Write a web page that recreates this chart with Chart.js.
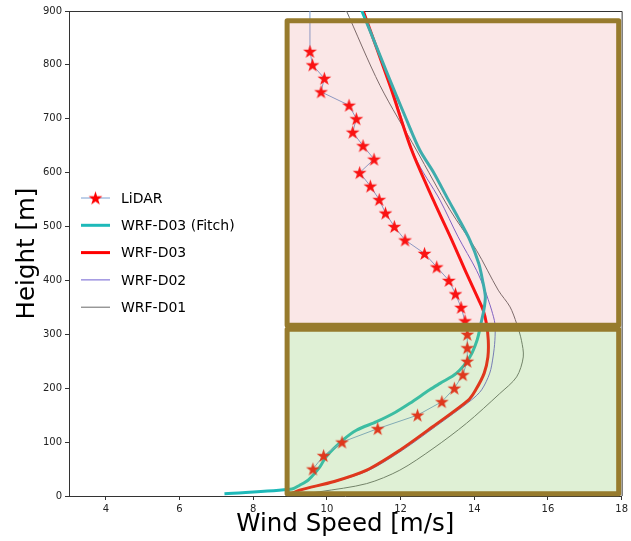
<!DOCTYPE html>
<html>
<head>
<meta charset="utf-8">
<script src="https://cdn.jsdelivr.net/npm/chart.js@4.4.0/dist/chart.umd.min.js"></script>
<style>
  html, body { margin: 0; padding: 0; background: #fff; }
</style>
</head>
<body>
<canvas id="profile" width="631" height="541"></canvas>
<script>
// heights in m, speeds in m/s
const lidarHeight = [50, 75, 100, 125, 150, 175, 200, 225, 250, 275, 300, 325, 350, 375, 400, 425,
                     450, 475, 500, 525, 550, 575, 600, 625, 650, 675, 700, 725, 750, 775, 800, 825, 1000];
const lidarSpeed = [9.62, 9.91, 10.41, 11.38, 12.46, 13.12, 13.46, 13.69, 13.81, 13.81, 13.81, 13.75, 13.64, 13.49, 13.31, 12.98,
                    12.65, 12.12, 11.83, 11.59, 11.42, 11.18, 10.89, 11.28, 10.98, 10.70, 10.80, 10.60, 9.84, 9.93, 9.61, 9.54, 9.54];

const fitchHeight = [4, 13, 20, 30, 54, 73, 104, 122, 138, 155, 172, 197, 209, 228, 258, 290, 320, 345, 370, 395,
                     432, 475, 518, 549, 600, 642, 700, 787, 850, 905];
const fitchSpeed = [7.22, 9.05, 9.26, 9.5, 9.81, 9.98, 10.44, 10.80, 11.35, 11.85, 12.25, 12.79, 13.07, 13.52, 13.88, 14.08, 14.18, 14.26, 14.30, 14.24,
                    14.12, 13.88, 13.55, 13.30, 12.90, 12.52, 12.15, 11.62, 11.25, 10.92];

const d03Height = [2, 11, 27, 48, 85, 129, 178, 197, 228, 258, 289, 320, 345, 364, 413, 469, 549, 642, 762, 905];
const d03Speed = [8.95, 9.26, 10.2, 11.08, 11.98, 12.88, 13.84, 14.04, 14.27, 14.37, 14.38, 14.33, 14.24, 14.12, 13.79, 13.43, 12.89, 12.30, 11.71, 10.96];

const d02Height = [2, 11, 27, 48, 85, 129, 178, 197, 228, 258, 289, 320, 345, 364, 382, 419, 481, 549, 630, 775, 905];
const d02Speed = [8.97, 9.3, 10.25, 11.15, 12.05, 12.95, 13.92, 14.2, 14.42, 14.51, 14.56, 14.56, 14.47, 14.38, 14.29, 14.06, 13.56, 13.07, 12.39, 11.68, 10.95];

const d01Height = [2, 8, 23, 48, 88, 135, 190, 221, 258, 289, 320, 351, 382, 456, 531, 642, 762, 905];
const d01Speed = [9.15, 9.81, 11.08, 11.98, 12.88, 13.79, 14.69, 15.15, 15.33, 15.28, 15.15, 14.97, 14.65, 14.06, 13.34, 12.43, 11.44, 10.50];

const xTicks = [4, 6, 8, 10, 12, 14, 16, 18];
const yTicks = [0, 100, 200, 300, 400, 500, 600, 700, 800, 900];

// highlighted height ranges (data units)
const regions = [
  {x0: 8.92, x1: 17.92, y0: 317, y1: 882, fill: 'rgba(228,110,110,0.17)'},
  {x0: 8.92, x1: 17.92, y0: 4, y1: 309.5, fill: 'rgba(140,200,105,0.28)'}
];

const toPoints = (hs, vs) => hs.map((h, i) => ({x: vs[i], y: h}));

function makeStar(r, color) {
  const c = document.createElement('canvas');
  const s = Math.ceil(r * 2 + 2);
  c.width = s; c.height = s;
  const g = c.getContext('2d');
  g.beginPath();
  for (let k = 0; k < 10; k++) {
    const rad = k % 2 === 0 ? r : r * 0.382;
    const a = -Math.PI / 2 + k * Math.PI / 5;
    g.lineTo(s / 2 + rad * Math.cos(a), s / 2 + 0.6 + rad * Math.sin(a));
  }
  g.closePath();
  g.fillStyle = color;
  g.fill();
  return c;
}
const star = makeStar(7.3, '#ff0000');

const regionPlugin = {
  id: 'regions',
  beforeDatasetsDraw(chart) {
    const {ctx, chartArea: a} = chart;
    ctx.save();
    ctx.strokeStyle = '#333';
    ctx.lineWidth = 1;
    ctx.beginPath();
    ctx.moveTo(a.left, a.top + 0.5);
    ctx.lineTo(a.right + 0.5, a.top + 0.5);
    ctx.lineTo(a.right + 0.5, a.bottom);
    ctx.stroke();
    ctx.restore();
  },
  afterDatasetsDraw(chart) {
    const {ctx, scales: {x, y}} = chart;
    regions.forEach(r => {
      const left = x.getPixelForValue(r.x0), right = x.getPixelForValue(r.x1);
      const top = y.getPixelForValue(r.y1), bottom = y.getPixelForValue(r.y0);
      ctx.save();
      ctx.fillStyle = r.fill;
      ctx.fillRect(left, top, right - left, bottom - top);
      ctx.lineWidth = 5;
      ctx.lineJoin = 'round';
      ctx.strokeStyle = '#977b2d';
      ctx.strokeRect(left, top, right - left, bottom - top);
      ctx.restore();
    });
  }
};

const legendPlugin = {
  id: 'sideLegend',
  afterDraw(chart) {
    const {ctx} = chart;
    ctx.save();
    ctx.font = '14px "DejaVu Sans"';
    ctx.textBaseline = 'middle';
    ctx.fillStyle = '#000';
    chart.data.datasets.forEach((ds, i) => {
      const yy = 198 + i * 27.3;
      ctx.strokeStyle = ds.borderColor;
      ctx.lineWidth = ds.borderWidth;
      ctx.beginPath();
      ctx.moveTo(81, yy);
      ctx.lineTo(110, yy);
      ctx.stroke();
      if (ds.pointStyle && typeof ds.pointStyle === 'object') {
        ctx.drawImage(ds.pointStyle, 95.5 - ds.pointStyle.width / 2, yy - ds.pointStyle.height / 2);
      }
      ctx.fillText(ds.label, 121, yy + 1);
    });
    ctx.restore();
  }
};

const tickFont = {family: 'DejaVu Sans', size: 10};
const titleFont = {family: 'DejaVu Sans', size: 24.5, lineHeight: 1.2};

new Chart(document.getElementById('profile'), {
  type: 'scatter',
  data: {
    datasets: [
      {label: 'LiDAR', data: toPoints(lidarHeight, lidarSpeed), showLine: true,
       borderColor: 'rgb(125,160,210)', borderWidth: 1, pointStyle: star, pointRadius: 7, order: 0},
      {label: 'WRF-D03 (Fitch)', data: toPoints(fitchHeight, fitchSpeed), showLine: true, tension: 0.3,
       borderColor: 'rgb(30,185,185)', borderWidth: 3, pointRadius: 0, order: 1},
      {label: 'WRF-D03', data: toPoints(d03Height, d03Speed), showLine: true, tension: 0.3,
       borderColor: '#ff0000', borderWidth: 3, pointRadius: 0, order: 2},
      {label: 'WRF-D02', data: toPoints(d02Height, d02Speed), showLine: true, tension: 0.3,
       borderColor: 'rgb(110,95,210)', borderWidth: 1, pointRadius: 0, order: 3},
      {label: 'WRF-D01', data: toPoints(d01Height, d01Speed), showLine: true, tension: 0.3,
       borderColor: 'rgb(105,105,105)', borderWidth: 1, pointRadius: 0, order: 4}
    ]
  },
  options: {
    responsive: false,
    animation: false,
    devicePixelRatio: 1,
    layout: {padding: {top: 11, right: 9, left: 0, bottom: 0}},
    plugins: {legend: {display: false}, tooltip: {enabled: false}},
    scales: {
      x: {
        type: 'linear', min: 3, max: 18,
        afterBuildTicks: s => { s.ticks = xTicks.map(v => ({value: v})); },
        afterFit: s => { s.height = 45; },
        grid: {drawOnChartArea: false, drawTicks: true, tickLength: 4, color: '#333'},
        border: {display: true, color: '#333', width: 1},
        ticks: {font: tickFont, color: '#222', padding: 3, maxRotation: 0},
        title: {display: true, text: 'Wind Speed [m/s]', font: titleFont, color: '#000', padding: {bottom: 2}}
      },
      y: {
        type: 'linear', min: 0, max: 900,
        afterBuildTicks: s => { s.ticks = yTicks.map(v => ({value: v})); },
        afterFit: s => { s.width = 69; },
        grid: {drawOnChartArea: false, drawTicks: true, tickLength: 4, color: '#333'},
        border: {display: true, color: '#333', width: 1},
        ticks: {font: tickFont, color: '#222', padding: 3},
        title: {display: true, text: 'Height [m]', font: titleFont, color: '#000', padding: {top: 13}}
      }
    }
  },
  plugins: [regionPlugin, legendPlugin]
});
</script>
</body>
</html>
